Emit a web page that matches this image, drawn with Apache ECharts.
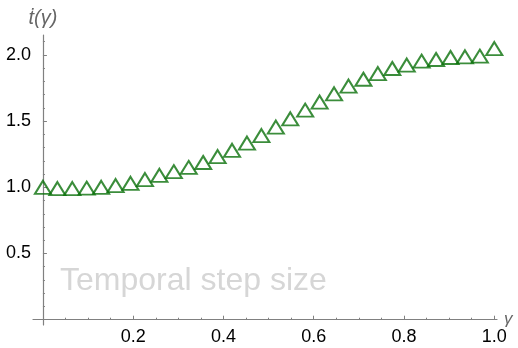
<!DOCTYPE html>
<html>
<head>
<meta charset="utf-8">
<script src="https://cdn.jsdelivr.net/npm/echarts@6/dist/echarts.min.js"></script>
<style>
  html, body { margin: 0; padding: 0; background: #fff; }
  #chart { width: 518px; height: 348px; }
</style>
</head>
<body>
<div id="chart"></div>
<script>
// gamma values (evenly spaced samples) and the step size
var gammas = [0, 0.032, 0.065, 0.097, 0.129, 0.161, 0.194, 0.226, 0.258, 0.29, 0.323,
    0.355, 0.387, 0.419, 0.452, 0.484, 0.516, 0.548, 0.581, 0.613, 0.645,
    0.677, 0.71, 0.742, 0.774, 0.806, 0.839, 0.871, 0.903, 0.935, 0.968, 1.0];
var stepSize = [1.0, 0.99, 0.99, 0.993, 1.0, 1.013, 1.03, 1.058, 1.09, 1.118, 1.15,
    1.187, 1.232, 1.279, 1.334, 1.39, 1.455, 1.517, 1.582, 1.643, 1.706,
    1.764, 1.816, 1.859, 1.897, 1.923, 1.952, 1.965, 1.98, 1.985, 1.99, 2.047];

var xMajor = [0.2, 0.4, 0.6, 0.8, 1.0];
var xMinor = [0.05, 0.1, 0.15, 0.25, 0.3, 0.35, 0.45, 0.5, 0.55, 0.65, 0.7, 0.75, 0.85, 0.9, 0.95];
var yMajor = [0.5, 1.0, 1.5, 2.0];
var yMinor = [0.1, 0.2, 0.3, 0.4, 0.6, 0.7, 0.8, 0.9, 1.1, 1.2, 1.3, 1.4, 1.6, 1.7, 1.8, 1.9, 2.1];

var axisGray = '#808080';
var font = 'Liberation Sans, Arial, sans-serif';

var points = [];
for (var i = 0; i < gammas.length; i++) {
    points.push([gammas[i], stepSize[i]]);
}

var myChart = echarts.init(document.getElementById('chart'));

function minorAxis(ticks, extra) {
    var ax = {
        type: 'value',
        splitLine: { show: false },
        axisLine: { show: true, onZero: true, lineStyle: { color: axisGray, width: 1.2 } },
        axisTick: { show: true, inside: true, length: 2, customValues: ticks,
            lineStyle: { color: axisGray } },
        axisLabel: { show: false }
    };
    for (var k in extra) ax[k] = extra[k];
    return ax;
}

function majorAxis(ticks, extra, margin) {
    var ax = {
        type: 'value',
        splitLine: { show: false },
        axisLine: { show: false, onZero: true },
        axisTick: { show: true, inside: true, length: 4, customValues: ticks,
            lineStyle: { color: axisGray } },
        axisLabel: {
            show: true,
            customValues: ticks,
            margin: margin,
            color: '#000',
            fontSize: 18,
            fontFamily: font,
            formatter: function (v) { return v.toFixed(1); }
        }
    };
    for (var k in extra) ax[k] = extra[k];
    return ax;
}

var option = {
    animation: false,
    grid: { left: 33, right: 21, top: 35, bottom: 23 },
    xAxis: [
        minorAxis(xMinor, {
            min: -0.022, max: 1.006,
            name: 'γ', nameLocation: 'end', nameGap: 7,
            nameTextStyle: { color: '#666', fontSize: 17, fontStyle: 'italic', fontFamily: font,
                verticalAlign: 'middle' }
        }),
        majorAxis(xMajor, { min: -0.022, max: 1.006, position: 'bottom' }, 3)
    ],
    yAxis: [
        minorAxis(yMinor, {
            min: -0.04, max: 2.15, position: 'left',
            name: 'ṫ(γ)', nameLocation: 'end', nameGap: 7,
            nameTextStyle: { color: '#666', fontSize: 20, fontStyle: 'italic', fontFamily: font }
        }),
        majorAxis(yMajor, { min: -0.04, max: 2.15, position: 'left' }, 2)
    ],
    graphic: [{
        type: 'text',
        left: 60,
        top: 265,
        style: {
            text: 'Temporal step size',
            fill: '#d6d6d6',
            fontSize: 32,
            fontFamily: font
        }
    }],
    series: [{
        type: 'scatter',
        xAxisIndex: 0,
        yAxisIndex: 0,
        data: points,
        symbol: 'triangle',
        symbolSize: [16, 13],
        itemStyle: {
            color: 'rgba(0,0,0,0)',
            borderColor: '#0a700a',
            borderWidth: 2
        }
    }]
};

myChart.setOption(option);
</script>
</body>
</html>
